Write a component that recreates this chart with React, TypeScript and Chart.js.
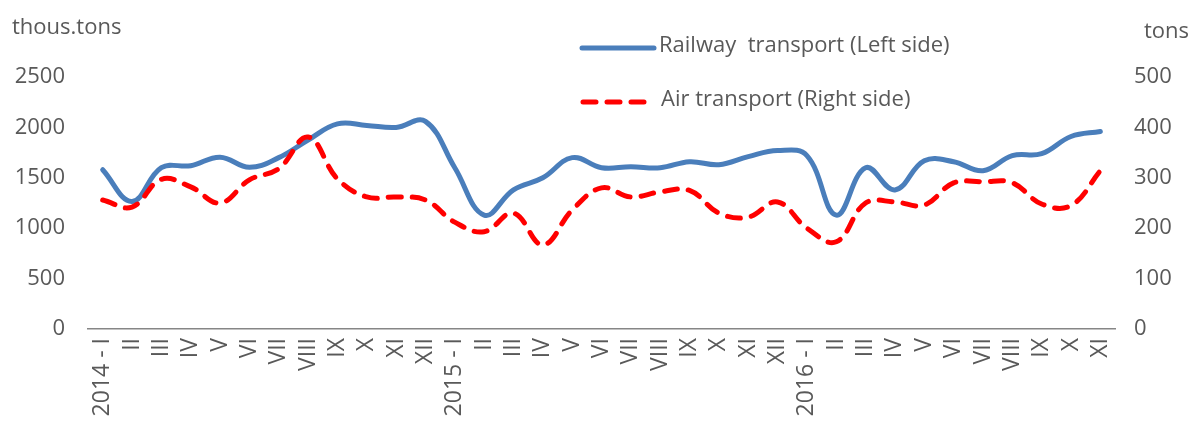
import React, { useEffect, useRef } from "react";
import { Chart, registerables } from "chart.js";

Chart.register(...registerables);

const categories = [
  "2014 - I", "II", "III", "IV", "V", "VI", "VII", "VIII", "IX", "X", "XI", "XII",
  "2015 - I", "II", "III", "IV", "V", "VI", "VII", "VIII", "IX", "X", "XI", "XII",
  "2016 - I", "II", "III", "IV", "V", "VI", "VII", "VIII", "IX", "X", "XI",
];

const railway = [
  1580, 1265, 1600, 1620, 1705, 1605, 1700, 1875, 2035, 2020, 2000, 2060,
  1600, 1130, 1380, 1500, 1700, 1600, 1610, 1600, 1660, 1630, 1710, 1770,
  1720, 1130, 1600, 1380, 1670, 1660, 1570, 1720, 1740, 1910, 1960,
];

const air = [
  256, 242, 297, 282, 250, 296, 318, 381, 298, 262, 262, 256,
  212, 193, 230, 167, 236, 280, 262, 272, 275, 230, 222, 252,
  200, 173, 250, 252, 246, 290, 292, 290, 248, 245, 314,
];

const seriesNames = ["Railway  transport (Left side)", "Air transport (Right side)"];
const unitLeft = "thous.tons";
const unitRight = "tons";

const TEXT = "#595959";
const BLUE = "#4a7ebb";
const RED = "#ff0000";
const FONT = "'Open Sans', sans-serif";

export default function App() {
  const ref = useRef<HTMLCanvasElement | null>(null);

  useEffect(() => {
    document.body.style.margin = "0";
    const canvas = ref.current;
    if (!canvas) return;

    const overlay = {
      id: "overlay",
      afterDraw(chart: any) {
        const ctx = chart.ctx;
        ctx.save();
        ctx.fillStyle = TEXT;
        ctx.font = `22px ${FONT}`;
        ctx.textBaseline = "middle";
        ctx.textAlign = "left";
        ctx.fillText(unitLeft, 12, 28);
        ctx.fillText(unitRight, 1144, 32);

        // legend
        ctx.lineCap = "round";
        ctx.lineWidth = 5;
        ctx.strokeStyle = BLUE;
        ctx.setLineDash([]);
        ctx.beginPath();
        ctx.moveTo(582, 48);
        ctx.lineTo(654, 48);
        ctx.stroke();

        ctx.strokeStyle = RED;
        ctx.setLineDash([13, 11]);
        ctx.beginPath();
        ctx.moveTo(583, 102);
        ctx.lineTo(650, 102);
        ctx.stroke();
        ctx.setLineDash([]);

        ctx.fillStyle = TEXT;
        ctx.font = `22px ${FONT}`;
        ctx.fillText(seriesNames[0], 659, 46);
        ctx.fillText(seriesNames[1], 661, 100);
        ctx.restore();
      },
    };

    const chart = new Chart(canvas, {
      type: "line",
      data: {
        labels: categories,
        datasets: [
          {
            label: seriesNames[1],
            data: air,
            yAxisID: "yRight",
            borderColor: RED,
            backgroundColor: RED,
            borderWidth: 5,
            borderDash: [13, 11],
            borderCapStyle: "round",
            pointRadius: 0,
            tension: 0.4,
            fill: false,
            order: 0,
          },
          {
            label: seriesNames[0],
            data: railway,
            yAxisID: "yLeft",
            borderColor: BLUE,
            backgroundColor: BLUE,
            borderWidth: 5,
            borderCapStyle: "round",
            pointRadius: 0,
            tension: 0.4,
            fill: false,
            order: 1,
          },
        ],
      },
      options: {
        animation: false,
        responsive: false,
        maintainAspectRatio: false,
        layout: { padding: { top: 77, left: 0, right: 0, bottom: 0 } },
        plugins: {
          legend: { display: false },
          tooltip: { enabled: false },
          title: { display: false },
        },
        scales: {
          x: {
            offset: true,
            grid: { display: false, drawTicks: false },
            border: { display: true, color: "#868686", width: 1.5 },
            ticks: {
              autoSkip: false,
              minRotation: 90,
              maxRotation: 90,
              padding: 9,
              color: TEXT,
              font: { family: FONT, size: 23 },
            },
            afterFit(scale: any) {
              scale.height = 93;
            },
          },
          yLeft: {
            position: "left",
            min: 0,
            max: 2500,
            grid: { display: false, drawTicks: false },
            border: { display: false },
            ticks: {
              stepSize: 500,
              padding: 23,
              color: TEXT,
              font: { family: FONT, size: 22 },
              callback: (v: any) => String(v),
            },
            afterFit(scale: any) {
              scale.width = 88;
            },
          },
          yRight: {
            position: "right",
            min: 0,
            max: 500,
            grid: { display: false, drawTicks: false },
            border: { display: false },
            ticks: {
              stepSize: 100,
              padding: 19,
              color: TEXT,
              font: { family: FONT, size: 22 },
              callback: (v: any) => String(v),
            },
            afterFit(scale: any) {
              scale.width = 1192 - 1115;
            },
          },
        },
      },
      plugins: [overlay],
    });

    return () => chart.destroy();
  }, []);

  return (
    <div style={{ width: 1192, height: 422, position: "relative", background: "#fff" }}>
      <canvas ref={ref} width={1192} height={422} />
    </div>
  );
}
